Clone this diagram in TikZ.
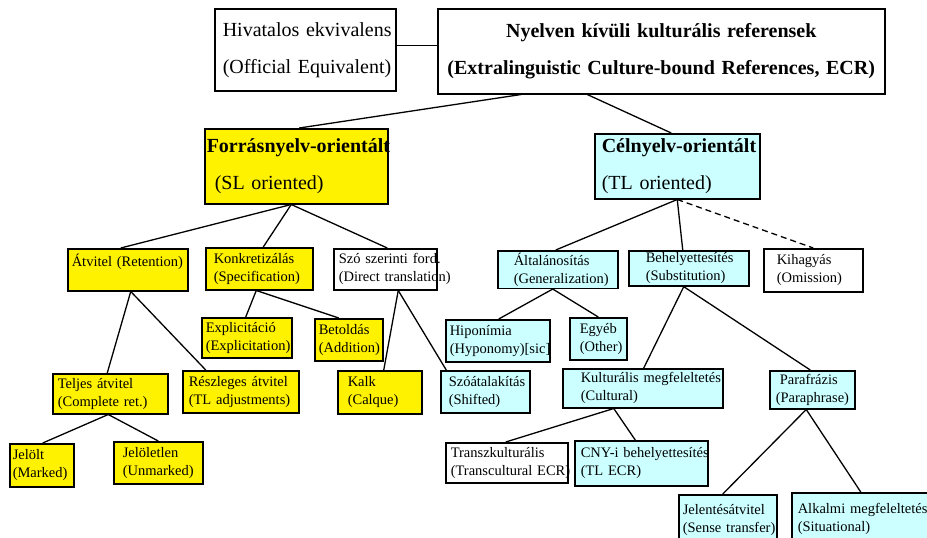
\documentclass[tikz,border=0pt]{standalone}
\usepackage{fontspec}
\setmainfont{Liberation Serif}
\usepackage{xcolor}
\usepackage{tikz}
\usetikzlibrary{positioning, calc}

\definecolor{tlcyan}{HTML}{CCFFFF}
\newcommand{\twolines}[2]{\mbox{#1}\\\mbox{#2}}

\begin{document}
\begin{tikzpicture}[x=1pt, y=-1pt,
    box/.style={draw, line width=1.5pt, anchor=north west, align=left, inner ysep=2pt,
      font=\fontsize{14.5}{18}\selectfont},
    bigbox/.style={box, font=\fontsize{20}{37}\selectfont},
    slbox/.style={box, fill=yellow},
    tlbox/.style={box, fill=tlcyan},
    link/.style={line width=1.3pt}]
          \clip (0,0) rectangle (927,538);

          % top level
          \node[bigbox, minimum width=181pt, minimum height=82pt, inner xsep=8pt, text width=165pt] (hiv) at (214,8) {\twolines{Hivatalos ekvivalens}{(Official Equivalent)}};
          \node[bigbox, align=center, minimum width=447pt, minimum height=85pt, inner xsep=4pt, text width=439pt] (ecr) at (437,8) {\textbf{Nyelven kívüli kulturális referensek}\\\textbf{(Extralinguistic Culture-bound References, ECR)}};

          \node[bigbox, fill=yellow, minimum width=183pt, minimum height=75pt, inner xsep=2pt, text width=179pt] (sl) at (204,128) {\mbox{\textbf{Forrásnyelv-orientált}}\\\hspace*{8pt}(SL oriented)};
          \node[bigbox, fill=tlcyan, minimum width=165pt, minimum height=65pt, inner xsep=7pt, text width=151pt] (tl) at (594,133) {\mbox{\textbf{Célnyelv-orientált}}\\(TL oriented)};

          % source language side
          \node[slbox, minimum width=120pt, minimum height=42pt, inner xsep=4pt, text width=112pt] (atv) at (67,248) {\twolines{Átvitel (Retention)}{}};
          \node[slbox, minimum width=107pt, minimum height=42pt, inner xsep=8pt, text width=91pt] (konk) at (205,247) {\twolines{Konkretizálás}{(Specification)}};
          \node[box, minimum width=103pt, minimum height=41pt, inner xsep=5pt, text width=93pt] (szo) at (333,248) {\twolines{Szó szerinti ford.}{(Direct translation)}};

          \node[slbox, minimum width=90pt, minimum height=40pt, inner xsep=4pt, text width=82pt] (expl) at (201,317) {\twolines{Explicitáció}{(Explicitation)}};
          \node[slbox, minimum width=68pt, minimum height=42pt, inner xsep=4pt, text width=60pt] (bet) at (314,318) {\twolines{Betoldás}{(Addition)}};

          \node[slbox, minimum width=115pt, minimum height=40pt, inner xsep=5pt, text width=105pt] (telj) at (52,373) {\twolines{Teljes átvitel}{(Complete ret.)}};
          \node[slbox, minimum width=116pt, minimum height=42pt, inner xsep=6pt, text width=104pt] (resz) at (182,370) {\twolines{Részleges átvitel}{(TL adjustments)}};
          \node[slbox, minimum width=84pt, minimum height=43pt, inner xsep=10pt, text width=64pt] (kalk) at (337,370) {\twolines{Kalk}{(Calque)}};

          \node[slbox, minimum width=64pt, minimum height=43pt, inner xsep=3pt, text width=58pt] (jel) at (9,443) {\twolines{Jelölt}{(Marked)}};
          \node[slbox, minimum width=89pt, minimum height=42pt, inner xsep=9pt, text width=71pt] (jeln) at (113,441) {\twolines{Jelöletlen}{(Unmarked)}};

          % target language side
          \node[tlbox, minimum width=120pt, minimum height=35pt, inner xsep=16pt, text width=88pt] (alt) at (497,250) {\twolines{Általánosítás}{(Generalization)}};
          \node[tlbox, minimum width=120pt, minimum height=35pt, inner xsep=17pt, text width=86pt] (beh) at (628,250) {\twolines{Behelyettesítés}{(Substitution)}};
          \node[box, minimum width=99pt, minimum height=43pt, inner xsep=13pt, text width=73pt] (kih) at (763,248) {\twolines{Kihagyás}{(Omission)}};

          \node[tlbox, minimum width=104pt, minimum height=42pt, inner xsep=4pt, text width=96pt] (hip) at (445,319) {\twolines{Hiponímia}{(Hyponomy)[sic]}};
          \node[tlbox, minimum width=57pt, minimum height=42pt, inner xsep=10pt, text width=37pt] (egy) at (569,317) {\twolines{Egyéb}{(Other)}};

          \node[tlbox, minimum width=89pt, minimum height=42pt, inner xsep=8pt, text width=73pt] (szoat) at (440,370) {\twolines{Szóátalakítás}{(Shifted)}};
          \node[tlbox, minimum width=160pt, minimum height=39pt, inner xsep=18pt, text width=124pt] (kult) at (562,368) {\twolines{Kulturális megfeleltetés}{(Cultural)}};
          \node[tlbox, minimum width=85pt, minimum height=38pt, inner xsep=6pt, text width=73pt] (para) at (769,370) {\twolines{\hspace*{4pt}Parafrázis}{(Paraphrase)}};

          \node[box, minimum width=122pt, minimum height=40pt, inner xsep=5pt, text width=112pt] (transz) at (445,442) {\twolines{Transzkulturális}{(Transcultural ECR)}};
          \node[tlbox, minimum width=133pt, minimum height=45pt, inner xsep=6pt, text width=121pt] (cny) at (574,440) {\twolines{CNY-i behelyettesítés}{(TL ECR)}};

          \node[tlbox, minimum width=98pt, minimum height=51pt, inner xsep=4pt, text width=90pt] (sense) at (678,494) {\twolines{Jelentésátvitel}{(Sense transfer)}};
          \node[tlbox, minimum width=150pt, minimum height=53pt, inner xsep=6pt, text width=138pt] (sit) at (791,492) {\twolines{Alkalmi megfeleltetés}{(Situational)}};

          % connectors
          \draw[link] ([yshift=4pt]hiv.east) -- ([yshift=4pt]hiv.east -| ecr.west);
          \draw[link] ([xshift=-140pt]ecr.south) -- ([xshift=3pt]sl.north);
          \draw[link] ([xshift=-74pt]ecr.south) -- ([xshift=-6pt]tl.north);

          \draw[link] ([xshift=-5pt]sl.south) -- ([xshift=-7pt]atv.north);
          \draw[link] ([xshift=-5pt]sl.south) -- ([xshift=4pt]konk.north);
          \draw[link] ([xshift=-5pt]sl.south) -- ([xshift=2pt]szo.north);

          \draw[link] ([xshift=3pt]atv.south) -- ([xshift=-3pt]telj.north);
          \draw[link] ([xshift=3pt]atv.south) -- ([xshift=-35pt]resz.north);
          \draw[link] ([xshift=-3pt]konk.south) -- ([xshift=-1pt]expl.north);
          \draw[link] ([xshift=-3pt]konk.south) -- ([xshift=-10pt]bet.north);
          \draw[link] ([xshift=13pt]szo.south) -- ([xshift=4pt]kalk.north);
          \draw[link] ([xshift=13pt]szo.south) -- ([xshift=-39pt]szoat.north);
          \draw[link] ([xshift=-2pt]telj.south) -- ([xshift=1pt]jel.north);
          \draw[link] ([xshift=-2pt]telj.south) -- (jeln.north);

          \draw[link] (tl.south) -- ([xshift=-2pt]alt.north);
          \draw[link] (tl.south) -- ([xshift=-6pt]beh.north);
          \draw[link, dash pattern=on 6pt off 4pt] (tl.south) -- (kih.north);

          \draw[link] ([xshift=-5pt]alt.south) -- ([xshift=1pt]hip.north);
          \draw[link] ([xshift=-5pt]alt.south) -- (egy.north);
          \draw[link] ([xshift=-5pt]beh.south) -- ([xshift=1pt]kult.north);
          \draw[link] ([xshift=-5pt]beh.south) -- ([xshift=-2pt]para.north);
          \draw[link] ([xshift=-29pt]kult.south) -- ([xshift=-1pt]transz.north);
          \draw[link] ([xshift=-29pt]kult.south) -- ([xshift=-6pt]cny.north);
          \draw[link] ([xshift=-6pt]para.south) -- ([xshift=-5pt]sense.north);
          \draw[link] ([xshift=-6pt]para.south) -- ([xshift=-6pt]sit.north);
        \end{tikzpicture}
\end{document}
